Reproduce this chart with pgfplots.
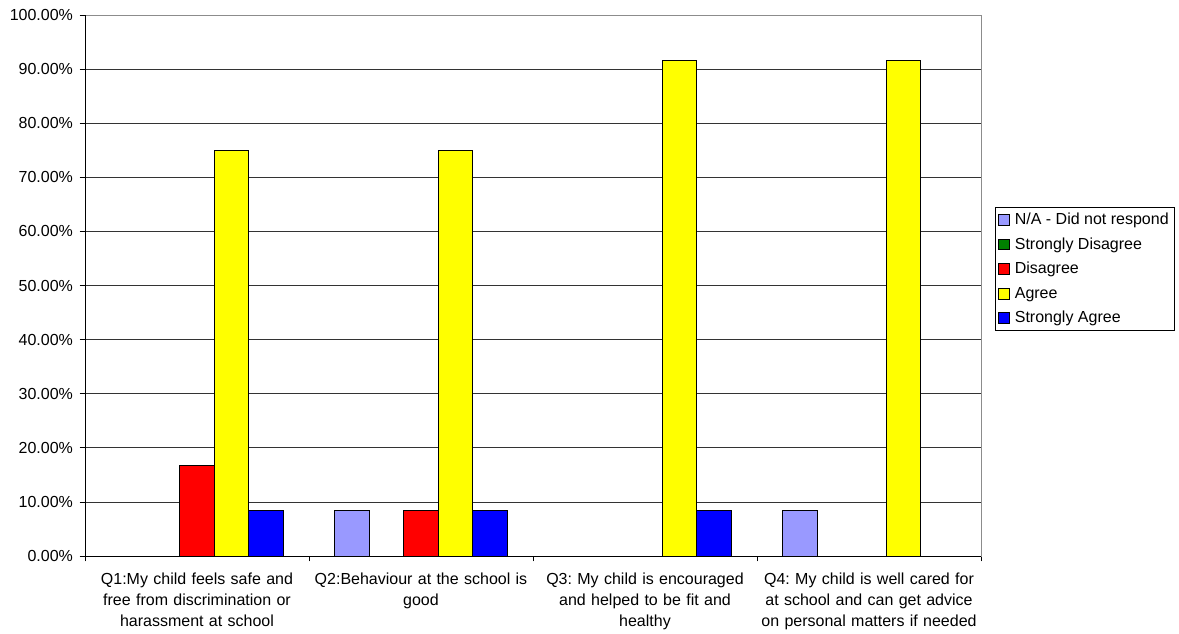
\documentclass[border=0pt]{standalone}
\usepackage{pgfplots}
\pgfplotsset{compat=1.18}
\usepackage{fontspec}
\setmainfont{Liberation Sans}
\frenchspacing
\definecolor{cNA}{HTML}{9999FF}
\definecolor{cSD}{HTML}{008000}
\definecolor{cD}{HTML}{FF0000}
\definecolor{cA}{HTML}{FFFF00}
\definecolor{cSA}{HTML}{0000FF}
\begin{document}
\begin{tikzpicture}
\path[use as bounding box] (0,0) rectangle (884.25pt,474.75pt);
\begin{axis}[
  at={(63.75pt,57.75pt)}, anchor=south west,
  scale only axis, width=672pt, height=405.75pt,
  ybar=0pt, bar width=25.9pt,
  xmin=-0.5, xmax=3.5, ymin=0, ymax=100,
  font=\fontsize{12pt}{15.5pt}\selectfont\frenchspacing,
  /pgf/number format/assume math mode=true,
  ytick={0,10,...,100},
  yticklabel={\pgfmathprintnumber[fixed,fixed zerofill,precision=2]{\tick}\%},
  ymajorgrids, grid style={black!80, line width=0.6pt},
  axis line style={black!45, line width=0.6pt},
  xtick={0,1,2,3},
  xticklabels={{Q1:My child feels safe and\\free from discrimination or\\harassment at school},
               {Q2:Behaviour at the school is\\good},
               {Q3: My child is encouraged\\and helped to be fit and\\healthy},
               {Q4: My child is well cared for\\at school and can get advice\\on personal matters if needed}},
  xticklabel style={align=center, text width=170pt, yshift=-5.5pt},
  major x tick style={draw=none},
  minor xtick={-0.5,0.5,1.5,2.5,3.5},
  minor x tick style={black, line width=0.6pt},
  tick align=outside, major tick length=4pt, minor tick length=4pt,
  y tick style={black, line width=0.6pt},
  xtick pos=left, ytick pos=left,
  yticklabel style={xshift=-1.5pt},
  legend cell align=left,
  legend style={at={(1.0156,0.645)}, anchor=north west, draw=black, line width=0.6pt,
    font=\fontsize{12pt}{14pt}\selectfont, row sep=4.4pt, inner sep=2pt,
    nodes={inner xsep=2pt}},
  legend image code/.code={\draw[#1, draw=black, line width=0.6pt] (0pt,-4pt) rectangle (8pt,4pt);},
  every axis plot/.append style={draw=black, line width=0.7pt},
]
\addplot[fill=cNA] coordinates {(1,8.33) (3,8.33)};
\addplot[fill=cSD] coordinates {(5,0)};
\addplot[fill=cD] coordinates {(0,16.67) (1,8.33)};
\addplot[fill=cA] coordinates {(0,75) (1,75) (2,91.67) (3,91.67)};
\addplot[fill=cSA] coordinates {(0,8.33) (1,8.33) (2,8.33)};
\legend{\hspace{2pt}N/A - Did not respond, \hspace{2pt}Strongly Disagree, \hspace{2pt}Disagree, \hspace{2pt}Agree, \hspace{2pt}Strongly Agree}
\draw[black, line width=0.6pt] (rel axis cs:0,0) -- (rel axis cs:0,1);
\draw[black, line width=0.6pt] (rel axis cs:0,0) -- (rel axis cs:1,0);
\end{axis}
\end{tikzpicture}
\end{document}
